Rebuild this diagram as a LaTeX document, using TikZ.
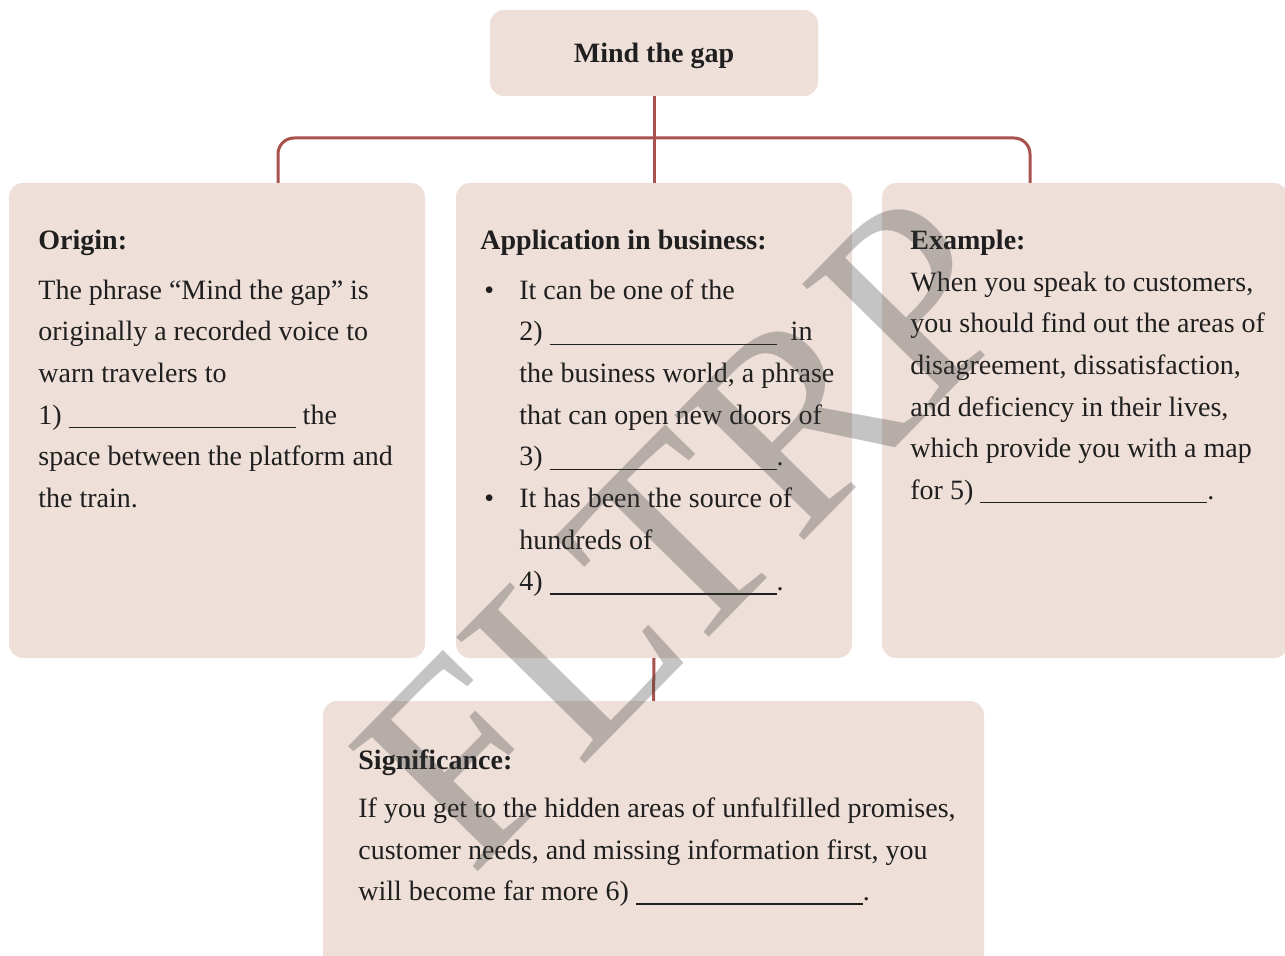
\documentclass[tikz,border=0pt]{standalone}
\usepackage{fontspec}
\setmainfont{Liberation Serif}
\usepackage{tikz}

\definecolor{boxfill}{HTML}{EEDFD8}
\definecolor{linkred}{HTML}{A8524E}
\newcommand{\gapline}{\rule[-2pt]{113.5pt}{0.6pt}}
\newcommand{\bul}{\makebox[19.5pt][l]{\hspace{2pt}\textbullet}}
\newcommand{\ind}{\hspace*{19.5pt}}

\begin{document}
\begin{tikzpicture}[x=0.5pt,y=-0.5pt,
box/.style = {fill=boxfill, rounded corners=7pt, inner sep=0pt, outer sep=0pt, anchor=north west},
body/.style = {anchor=north west, inner sep=0pt, align=left, text=black!88,
  font=\fontsize{14pt}{20.8pt}\selectfont},
link/.style = {draw=linkred, line width=1.5pt},
stamp/.style = {font=\fontsize{137.5pt}{137.5pt}\selectfont, text=black!77, text opacity=0.3, rotate=45.5, inner sep=0pt}
]
\clip (0,0) rectangle (1285,956);
\node[box, minimum width=164pt, minimum height=43pt, anchor=center, text height=10pt, text depth=0.7pt,
  font=\fontsize{14pt}{17pt}\selectfont\bfseries, text=black!88] (mind) at (654,53) {Mind the gap};
\node[box, minimum width=208pt, minimum height=237.5pt] (origin) at (9,183) {};
\node[box, minimum width=198pt, minimum height=237.5pt] (app) at (456,183) {};
\node[box, minimum width=203pt, minimum height=237.5pt] (example) at (882,183) {};
\node[box, minimum width=330.5pt, minimum height=137pt] (signif) at (323,701) {};

\coordinate (busL) at (278,138);
\coordinate (busR) at (1030,138);
\draw[link] (mind.south) -- (app.north);
\draw[link, rounded corners=8pt] (origin.north -| busL) |- (busR) -- (example.north -| busR);
\draw[link] (app.south) -- (signif.north);

\node[body] (origintxt) at ([shift={(29,42)}]origin.north west) {\rule{0pt}{12pt}\textbf{Origin:}\\[4.2pt]
The phrase “Mind the gap” is\\
originally a recorded voice to\\
warn travelers to\\
1) \gapline{} the\\
space between the platform and\\
the train.};

\node[body] (apptxt) at ([shift={(24,42)}]app.north west) {\rule{0pt}{12pt}\textbf{Application in business:}\\[4.2pt]
\bul It can be one of the\\
\ind 2) \gapline{} \ in\\
\ind the business world, a phrase\\
\ind that can open new doors of\\
\ind 3) \gapline.\\
\bul It has been the source of\\
\ind hundreds of\\
\ind 4) \gapline.};

\node[body] (exampletxt) at ([shift={(28,42)}]example.north west) {\rule{0pt}{12pt}\textbf{Example:}\\[0.2pt]
When you speak to customers,\\
you should find out the areas of\\
disagreement, dissatisfaction,\\
and deficiency in their lives,\\
which provide you with a map\\
for 5) \gapline.};

\node[body] (signiftxt) at ([shift={(35,44)}]signif.north west) {\rule{0pt}{12pt}\textbf{Significance:}\\[3.2pt]
If you get to the hidden areas of unfulfilled promises,\\
customer needs, and missing information first, you\\
will become far more 6) \gapline.};

\node[stamp] (stamp) at (688,530) {FLTRP};
\end{tikzpicture}
\end{document}
